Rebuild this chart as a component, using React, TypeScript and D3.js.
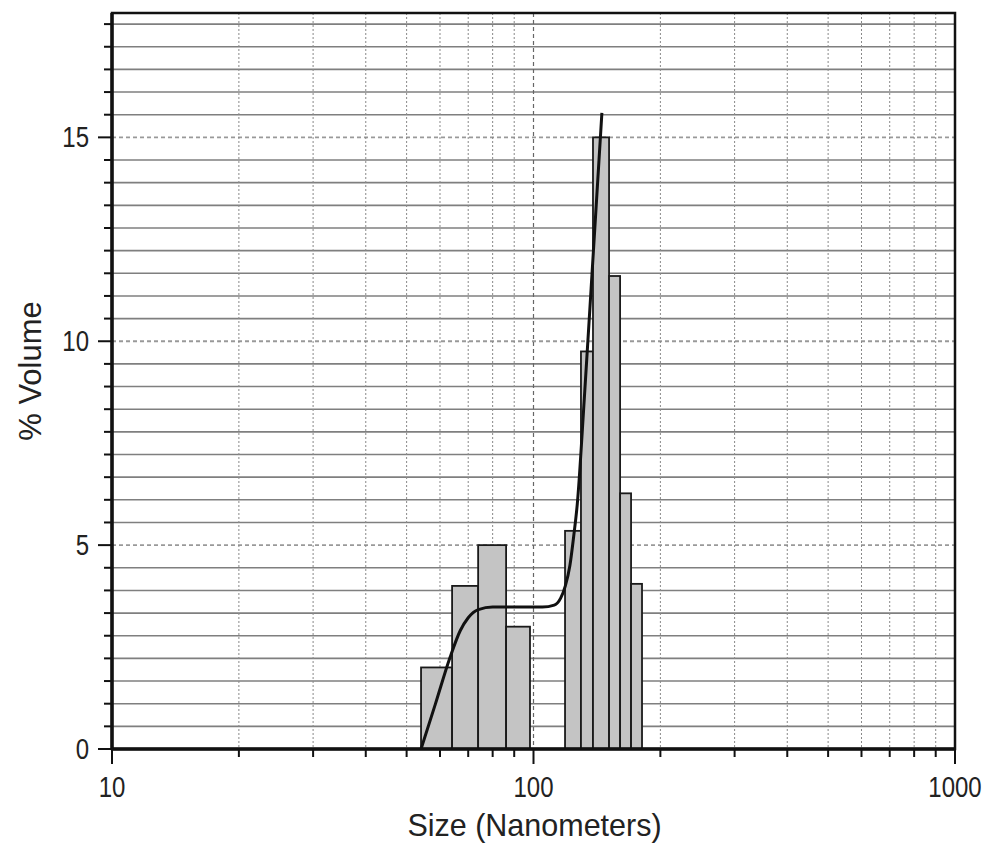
import React from 'react';
import * as d3 from 'd3';

// histogram bins (nm)
const binStart = [54.1, 64.1, 73.9, 86.1, 118.8, 129.6, 138.4, 151.1, 160.5, 170.4];
const binEnd = [64.1, 73.9, 86.1, 98.1, 129.6, 138.4, 151.1, 160.5, 170.4, 180.9];
const volume = [2.0, 4.0, 5.0, 3.0, 5.35, 9.75, 15.0, 11.6, 6.27, 4.05];

// fitted curve
const curveSize = [54.1, 58.5, 63.4, 67, 70, 74, 80, 92, 105, 112, 116, 119, 122, 124.5, 127, 132, 137, 145.3];
const curveVol = [0, 1.1, 2.25, 2.9, 3.22, 3.42, 3.48, 3.48, 3.48, 3.53, 3.7, 4.0, 4.5, 5.2, 6.0, 8.6, 11.3, 15.6];

const xTicks = [10, 100, 1000];
const yTicks = [0, 5, 10, 15];

const W = 985;
const H = 845;
const left = 112, right = 955, top = 13, bottom = 749;

const App = () => {
  const x = d3.scaleLog().domain([10, 1000]).range([left, right]);
  const y = d3.scaleLinear().domain([0, 18.05]).range([bottom, top]);

  // minor x grid: 20..90, 200..900
  const xMinor = d3.range(2, 10).flatMap(k => [k * 10, k * 100]);
  // minor y grid: 9 steps per 5 units
  const yMinor = d3.range(1, 33).map(k => k * 5 / 9).filter((v, i) => (i + 1) % 9 !== 0 && v < 18.05);

  const line = d3.line<number>()
    .x((d, i) => x(curveSize[i]))
    .y(d => y(d))
    .curve(d3.curveMonotoneX);

  const font = '"Liberation Sans", Arial, sans-serif';

  return (
    <svg width={W} height={H} style={{ position: 'absolute', left: 0, top: 0, background: '#fff' }}>
      {/* horizontal grid */}
      {yMinor.map(v => (
        <line key={'hy' + v} x1={left} x2={right} y1={y(v)} y2={y(v)} stroke="#7f7f7f" strokeWidth={1.6} />
      ))}
      {yTicks.slice(1).map(v => (
        <line key={'hY' + v} x1={left} x2={right} y1={y(v)} y2={y(v)} stroke="#999" strokeWidth={1.8} strokeDasharray="4,3" />
      ))}
      {/* vertical grid */}
      {xMinor.map(v => (
        <line key={'vx' + v} x1={x(v)} x2={x(v)} y1={top} y2={bottom} stroke="#888" strokeWidth={1} strokeDasharray="2,2" />
      ))}
      <line x1={x(100)} x2={x(100)} y1={top} y2={bottom} stroke="#666" strokeWidth={1.2} strokeDasharray="4,3" />

      {/* bars */}
      {volume.map((v, i) => (
        <rect key={'b' + i}
          x={x(binStart[i])} width={x(binEnd[i]) - x(binStart[i])}
          y={y(v)} height={bottom - y(v)}
          fill="#c4c4c4" stroke="#1a1a1a" strokeWidth={1.8} />
      ))}

      {/* fit curve */}
      <path d={line(curveVol) || ''} fill="none" stroke="#111" strokeWidth={3} />

      {/* frame */}
      <rect x={left} y={top} width={right - left} height={bottom - top} fill="none" stroke="#111" strokeWidth={2.5} />
      <line x1={left} x2={right} y1={bottom} y2={bottom} stroke="#111" strokeWidth={3.5} />
      <line x1={left} x2={left} y1={top} y2={bottom} stroke="#111" strokeWidth={3.5} />

      {/* y ticks */}
      {yMinor.map(v => (
        <line key={'ty' + v} x1={left - 8} x2={left} y1={y(v)} y2={y(v)} stroke="#111" strokeWidth={2} />
      ))}
      {yTicks.map(v => (
        <g key={'tY' + v}>
          <line x1={left - 14} x2={left} y1={y(v)} y2={y(v)} stroke="#111" strokeWidth={2} />
          <text transform={`translate(89,${y(v) + 10}) scale(1,1.25)`} textAnchor="end" fontFamily={font} fontSize={24} fill="#222">{v}</text>
        </g>
      ))}

      {/* x ticks */}
      {xMinor.map(v => (
        <line key={'tx' + v} x1={x(v)} x2={x(v)} y1={bottom} y2={bottom + 8} stroke="#111" strokeWidth={2} />
      ))}
      {xTicks.map(v => (
        <g key={'tX' + v}>
          <line x1={x(v)} x2={x(v)} y1={bottom} y2={bottom + 15} stroke="#111" strokeWidth={2} />
          <text transform={`translate(${x(v)},797) scale(1,1.25)`} textAnchor="middle" fontFamily={font} fontSize={24} fill="#222">{v}</text>
        </g>
      ))}

      {/* axis titles */}
      <text x={(left + right) / 2 + 1} y={836} textAnchor="middle" fontFamily={font} fontSize={30.5} fill="#222">Size (Nanometers)</text>
      <text transform={`translate(41,${371}) rotate(-90)`} textAnchor="middle" fontFamily={font} fontSize={31} fill="#222">% Volume</text>
    </svg>
  );
};

export default App;
